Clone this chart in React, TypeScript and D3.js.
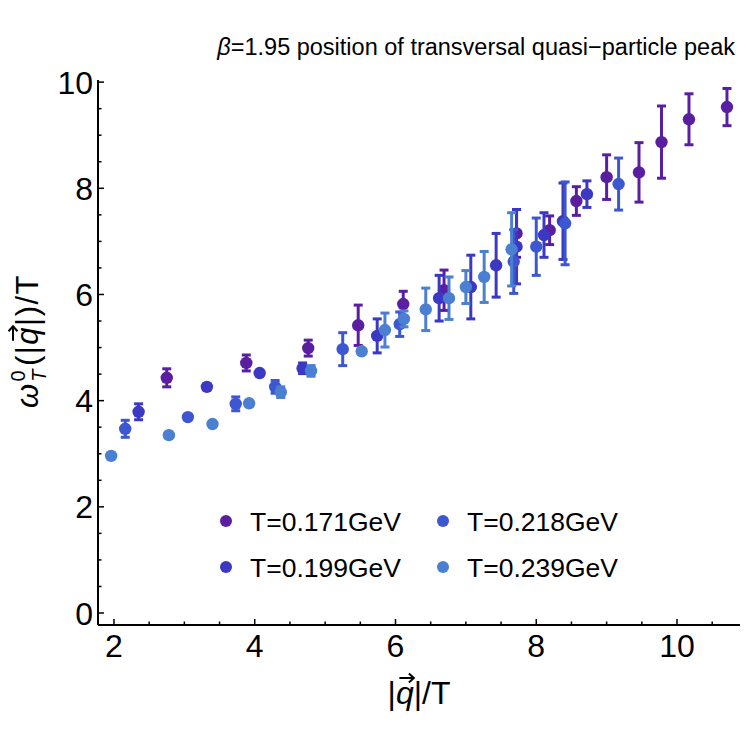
import React, { useEffect, useRef } from "react";
import * as d3 from "d3";

// series: |q|/T, omega/T, error
const q171 = [2.75, 3.88, 4.76, 5.47, 6.11, 6.69, 7.72, 8.19, 8.57, 9.0, 9.46, 9.78, 10.17, 10.71];
const w171 = [4.43, 4.71, 4.99, 5.42, 5.82, 6.08, 7.15, 7.21, 7.76, 8.21, 8.3, 8.87, 9.3, 9.53];
const e171 = [0.17, 0.15, 0.15, 0.38, 0.24, 0.38, 0.45, 0.27, 0.27, 0.42, 0.56, 0.68, 0.48, 0.35];

const q199 = [2.35, 3.32, 4.07, 4.68, 5.74, 6.62, 7.07, 7.43, 7.72, 8.11, 8.38, 8.72];
const w199 = [3.79, 4.26, 4.52, 4.61, 5.22, 5.93, 6.14, 6.55, 6.9, 7.12, 7.38, 7.89];
const e199 = [0.15, 0.05, 0.05, 0.1, 0.32, 0.43, 0.6, 0.6, 0.7, 0.42, 0.72, 0.25];

const q218 = [2.16, 3.05, 3.73, 4.29, 5.25, 6.06, 7.68, 8.0, 8.41, 9.17];
const w218 = [3.47, 3.69, 3.94, 4.26, 4.97, 5.44, 6.62, 6.9, 7.34, 8.08];
const e218 = [0.16, 0.05, 0.13, 0.12, 0.31, 0.23, 0.6, 0.54, 0.78, 0.49];

const q239 = [1.96, 2.78, 3.4, 3.92, 4.37, 4.8, 5.52, 5.85, 6.12, 6.43, 6.76, 7.0, 7.26, 7.65];
const w239 = [2.96, 3.35, 3.56, 3.95, 4.16, 4.56, 4.93, 5.33, 5.54, 5.72, 5.93, 6.14, 6.33, 6.85];
const e239 = [0.04, 0.04, 0.04, 0.05, 0.1, 0.1, 0.04, 0.32, 0.15, 0.4, 0.4, 0.31, 0.48, 0.69];

const seriesNames = ["T=0.171GeV", "T=0.199GeV", "T=0.218GeV", "T=0.239GeV"];
const seriesColors = ["#5a1fa0", "#3b38c4", "#3d57d0", "#4a7fd2"];

const xTicks = [2, 4, 6, 8, 10];
const yTicks = [0, 2, 4, 6, 8, 10];

const FONT = "'Liberation Sans', Arial, Helvetica, sans-serif";

export default function App() {
  const ref = useRef<SVGSVGElement>(null);

  useEffect(() => {
    const svg = d3.select(ref.current);
    svg.selectAll("*").remove();

    const left = 98, right = 740, top = 80, bottom = 625;
    const x = d3.scaleLinear().domain([1.773, 10.895]).range([left, right]);
    const y = d3.scaleLinear().domain([-0.226, 10.04]).range([bottom, top]);

    const series = [
      { q: q171, w: w171, e: e171 },
      { q: q199, w: w199, e: e199 },
      { q: q218, w: w218, e: e218 },
      { q: q239, w: w239, e: e239 },
    ];

    // points + error bars
    series.forEach((s, si) => {
      const col = seriesColors[si];
      const g = svg.append("g");
      const pts = s.q.map((qv, i) => ({ q: qv, w: s.w[i], e: s.e[i] }));
      const bars = g.selectAll("g.bar").data(pts).enter().append("g");
      bars.append("line")
        .attr("x1", (d) => x(d.q)).attr("x2", (d) => x(d.q))
        .attr("y1", (d) => y(d.w - d.e)).attr("y2", (d) => y(d.w + d.e))
        .attr("stroke", col).attr("stroke-width", 3);
      [-1, 1].forEach((sgn) => {
        bars.append("line")
          .attr("x1", (d) => x(d.q) - 4.5).attr("x2", (d) => x(d.q) + 4.5)
          .attr("y1", (d) => y(d.w + sgn * d.e)).attr("y2", (d) => y(d.w + sgn * d.e))
          .attr("stroke", col).attr("stroke-width", 3);
      });
      g.selectAll("circle").data(pts).enter().append("circle")
        .attr("cx", (d) => x(d.q)).attr("cy", (d) => y(d.w))
        .attr("r", 6.2).attr("fill", col);
    });

    // axes
    const ax = svg.append("g").attr("stroke", "#000");
    ax.append("line").attr("x1", left).attr("x2", right).attr("y1", bottom).attr("y2", bottom).attr("stroke-width", 2);
    ax.append("line").attr("x1", left).attr("x2", left).attr("y1", top).attr("y2", bottom).attr("stroke-width", 2);

    const xMinor = d3.range(2, 10.9, 0.5).filter((v) => !xTicks.includes(v));
    const yMinor = d3.range(0, 10.01, 0.5).filter((v) => !yTicks.includes(v));
    ax.selectAll("line.xt").data(xTicks).enter().append("line")
      .attr("x1", (d) => x(d)).attr("x2", (d) => x(d)).attr("y1", bottom).attr("y2", bottom - 6).attr("stroke-width", 1.5);
    ax.selectAll("line.xm").data(xMinor).enter().append("line")
      .attr("x1", (d) => x(d)).attr("x2", (d) => x(d)).attr("y1", bottom).attr("y2", bottom - 3.5).attr("stroke-width", 1.5);
    ax.selectAll("line.yt").data(yTicks).enter().append("line")
      .attr("x1", left).attr("x2", left + 6).attr("y1", (d) => y(d)).attr("y2", (d) => y(d)).attr("stroke-width", 1.5);
    ax.selectAll("line.ym").data(yMinor).enter().append("line")
      .attr("x1", left).attr("x2", left + 3.5).attr("y1", (d) => y(d)).attr("y2", (d) => y(d)).attr("stroke-width", 1.5);

    svg.selectAll("text.xl").data(xTicks).enter().append("text")
      .attr("x", (d) => x(d)).attr("y", 657).attr("text-anchor", "middle")
      .attr("font-size", 32).attr("font-family", FONT).text((d) => d);
    svg.selectAll("text.yl").data(yTicks).enter().append("text")
      .attr("x", 93).attr("y", (d) => y(d) + 11.5).attr("text-anchor", "end")
      .attr("font-size", 32).attr("font-family", FONT).text((d) => d);

    // title
    const title = svg.append("text").attr("x", 735).attr("y", 55).attr("text-anchor", "end")
      .attr("font-size", 23.5).attr("font-family", FONT);
    title.append("tspan").attr("font-style", "italic").text("β");
    title.append("tspan").text("=1.95 position of transversal quasi\u2212particle peak");

    // arrow over a tspan
    const addArrow = (parent: any, span: any) => {
      const b = span.node().getBBox();
      const cx = b.x + b.width / 2 + 1.5;
      const yy = b.y + 3;
      parent.append("path")
        .attr("d", `M${cx - 7},${yy} L${cx + 7},${yy} M${cx + 2.5},${yy - 4.5} L${cx + 7.5},${yy} L${cx + 2.5},${yy + 4.5}`)
        .attr("stroke", "#000").attr("stroke-width", 2).attr("fill", "none");
    };

    // x label
    const xl = svg.append("text").attr("x", 419).attr("y", 704).attr("text-anchor", "middle")
      .attr("font-size", 32).attr("font-family", FONT);
    xl.append("tspan").text("|");
    const xq = xl.append("tspan").attr("font-style", "italic").text("q");
    xl.append("tspan").text("|/T");
    addArrow(svg, xq);

    // y label
    const yg = svg.append("g").attr("transform", "translate(38,341) rotate(-90)");
    const yl = yg.append("text").attr("x", 0).attr("y", 0).attr("text-anchor", "middle")
      .attr("font-size", 31).attr("font-family", FONT).attr("letter-spacing", 1.5);
    yl.append("tspan").attr("font-style", "italic").text("ω");
    yl.append("tspan").attr("font-size", 20).attr("dy", -13).attr("dx", 1).text("0");
    yl.append("tspan").attr("font-size", 20).attr("font-style", "italic").attr("dx", -13).attr("dy", 21).text("T");
    yl.append("tspan").attr("dy", -8).attr("dx", 2).text("(|");
    const yq = yl.append("tspan").attr("font-style", "italic").text("q");
    yl.append("tspan").text("|)/T");
    addArrow(yg, yq);

    // legend
    const legX = [226, 443], legY = [521, 567];
    seriesNames.forEach((name, i) => {
      const cx = legX[Math.floor(i / 2)], cy = legY[i % 2];
      svg.append("circle").attr("cx", cx).attr("cy", cy).attr("r", 6).attr("fill", seriesColors[i]);
      svg.append("text").attr("x", cx + 24).attr("y", cy + 9.5).attr("font-size", 26.5)
        .attr("font-family", FONT).text(name);
    });
  }, []);

  return (
    <svg ref={ref} width={750} height={750} style={{ display: "block", margin: -8, background: "#fff" }} />
  );
}
